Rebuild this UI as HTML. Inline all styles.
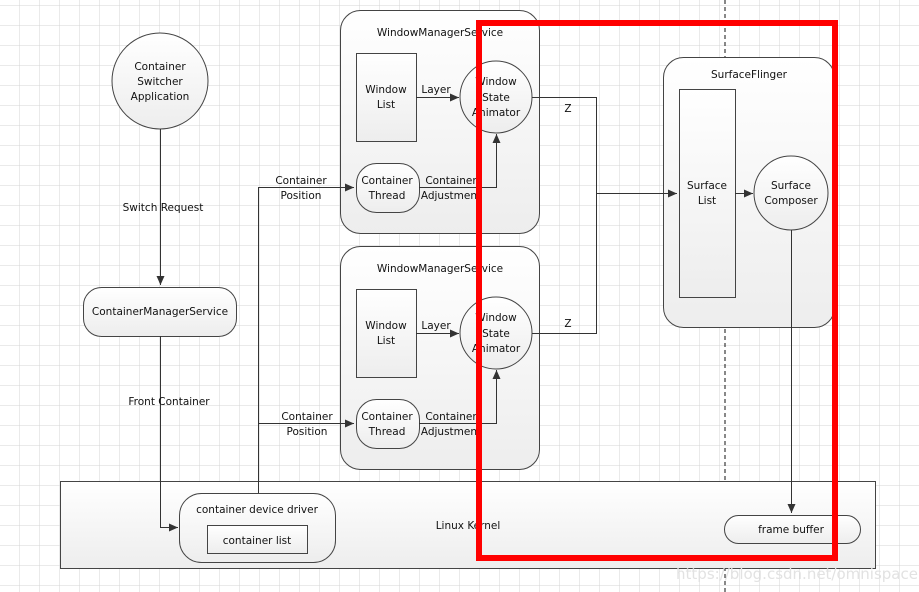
<!DOCTYPE html>
<html><head><meta charset="utf-8"><style>
html,body{margin:0;padding:0;background:#fff}
svg{display:block}
text{font-family:"DejaVu Sans","Liberation Sans",sans-serif;font-size:10.5px;fill:#111;text-anchor:middle}
</style></head><body>
<svg width="919" height="592" viewBox="0 0 919 592" xmlns="http://www.w3.org/2000/svg">
<defs>
<pattern id="g" x="19" y="5" width="20" height="20" patternUnits="userSpaceOnUse">
<path d="M0 0H20M0 0V20" stroke="#d4d4d4" stroke-width="1" fill="none"/>
</pattern>
<linearGradient id="f" x1="0" y1="0" x2="0" y2="1"><stop offset="0" stop-color="#ffffff"/><stop offset="1" stop-color="#ededed"/></linearGradient>
<marker id="a" markerWidth="10" markerHeight="10" refX="9" refY="5" orient="auto" markerUnits="userSpaceOnUse"><path d="M0 1L9 5L0 9z" fill="#333"/></marker>
</defs>
<rect width="919" height="592" fill="url(#g)"/>
<line x1="725" y1="0" x2="725" y2="592" stroke="#111" stroke-dasharray="4,3"/>
<g stroke="#444" stroke-width="1" fill="url(#f)">
<rect x="60.5" y="481.5" width="815" height="87"/>
<rect x="340.5" y="10.5" width="199" height="223" rx="20"/>
<rect x="340.5" y="246.5" width="199" height="223" rx="20"/>
<rect x="663.5" y="57.5" width="171" height="270" rx="20"/>
<circle cx="160" cy="81" r="48"/>
<rect x="83.5" y="287.5" width="153" height="49" rx="18"/>
<rect x="179.5" y="493.5" width="156" height="69" rx="22"/>
<rect x="207.5" y="525.5" width="100" height="28"/>
<rect x="356.5" y="53.5" width="60" height="88"/>
<rect x="356.5" y="289.5" width="60" height="88"/>
<circle cx="496" cy="97" r="36"/>
<circle cx="496" cy="333" r="36"/>
<rect x="356.5" y="163.5" width="63" height="49" rx="20"/>
<rect x="356.5" y="399.5" width="63" height="49" rx="20"/>
<rect x="679.5" y="89.5" width="56" height="208"/>
<circle cx="791" cy="193" r="37"/>
<rect x="724.5" y="515.5" width="136" height="28" rx="14"/>
</g>
<g stroke="#333" stroke-width="1" fill="none">
<path d="M160.5 129V285" marker-end="url(#a)"/>
<path d="M160.5 336V527.5H178" marker-end="url(#a)"/>
<path d="M258.5 493V187.5H354" marker-end="url(#a)"/>
<path d="M258.5 423.5H354" marker-end="url(#a)"/>
<path d="M416 97.5H459" marker-end="url(#a)"/>
<path d="M416 333.5H459" marker-end="url(#a)"/>
<path d="M419 187.5H496.5V134" marker-end="url(#a)"/>
<path d="M419 423.5H496.5V370" marker-end="url(#a)"/>
<path d="M532 97.5H596.5V333.5H532"/>
<path d="M596 193.5H677" marker-end="url(#a)"/>
<path d="M735 193.5H753" marker-end="url(#a)"/>
<path d="M791.5 230V513" marker-end="url(#a)"/>
</g>
<text x="160" y="70">Container</text><text x="160" y="85">Switcher</text><text x="160" y="100">Application</text>
<text x="163" y="211">Switch Request</text>
<text x="160" y="315">ContainerManagerService</text>
<text x="169" y="405">Front  Container</text>
<text x="257" y="513">container device driver</text>
<text x="257" y="544">container list</text>
<text x="468" y="529">Linux Kernel</text>
<text x="301" y="184">Container</text><text x="301" y="199">Position</text>
<text x="307" y="420">Container</text><text x="307" y="435">Position</text>
<text x="440" y="36">WindowManagerService</text>
<text x="440" y="272">WindowManagerService</text>
<text x="386" y="93">Window</text><text x="386" y="108">List</text>
<text x="386" y="329">Window</text><text x="386" y="344">List</text>
<text x="436" y="93">Layer</text><text x="436" y="329">Layer</text>
<text x="496" y="85">Window</text><text x="496" y="101">State</text><text x="496" y="116">Animator</text>
<text x="496" y="321">Window</text><text x="496" y="337">State</text><text x="496" y="352">Animator</text>
<text x="387" y="184">Container</text><text x="387" y="199">Thread</text>
<text x="387" y="420">Container</text><text x="387" y="435">Thread</text>
<text x="451" y="184">Container</text><text x="451" y="199">Adjustment</text>
<text x="451" y="420">Container</text><text x="451" y="435">Adjustment</text>
<text x="568" y="112">Z</text><text x="568" y="327">Z</text>
<text x="749" y="78">SurfaceFlinger</text>
<text x="707" y="189">Surface</text><text x="707" y="204">List</text>
<text x="791" y="189">Surface</text><text x="791" y="204">Composer</text>
<text x="791" y="533">frame buffer</text>
<rect x="479" y="23" width="356" height="535" fill="none" stroke="#ff0000" stroke-width="6"/>
<text x="797" y="579" style="font-size:15px;fill:#e2e2e2">https://blog.csdn.net/omnispace</text>
</svg>
</body></html>
